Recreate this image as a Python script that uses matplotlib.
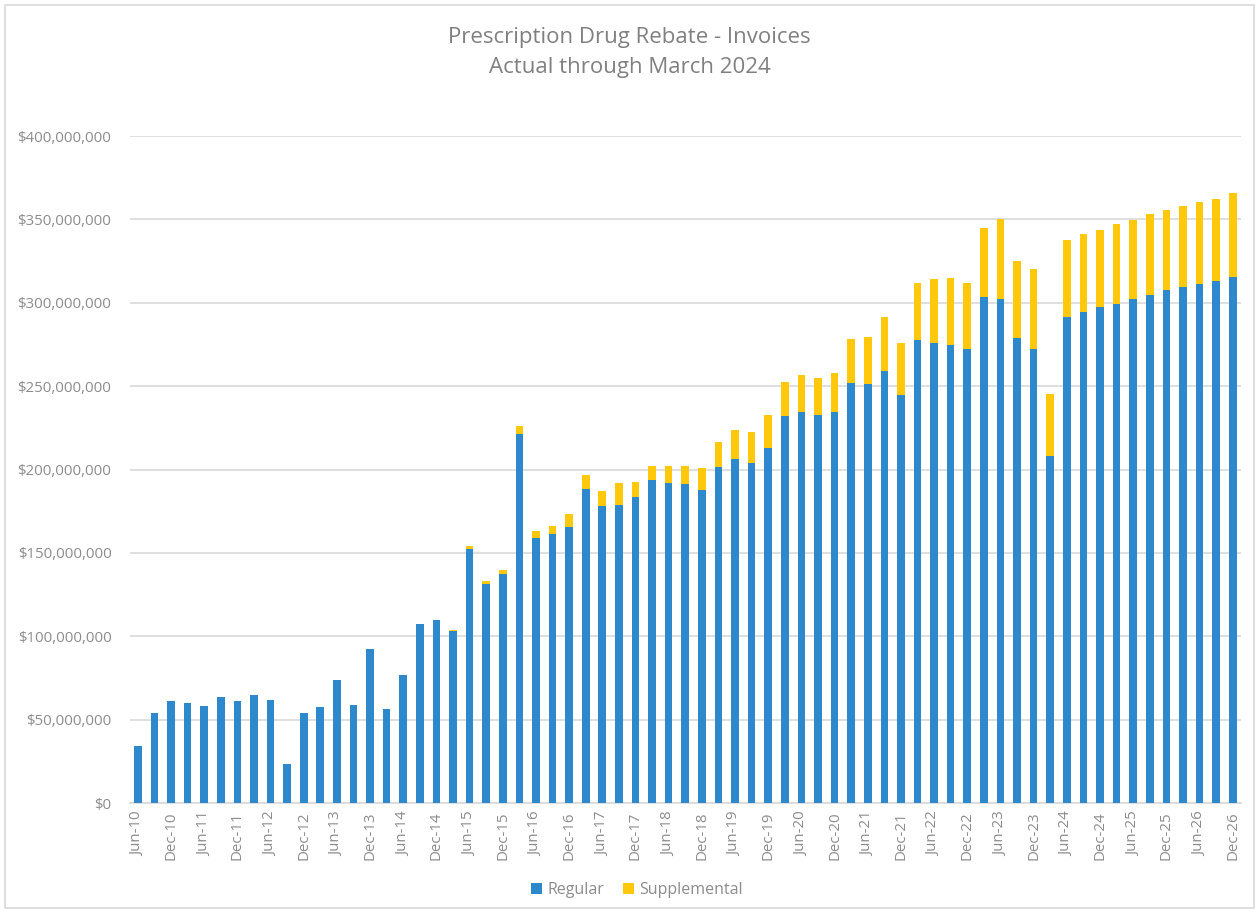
import matplotlib.pyplot as plt
import matplotlib.ticker as mticker
import matplotlib.patches as mpatches
import numpy as np
import pandas as pd

plt.rcParams['font.family'] = ['Open Sans', 'DejaVu Sans']

# quarter-end labels Jun-10 .. Dec-26
quarters = pd.date_range('2010-06-30', '2026-12-31', freq='QE').strftime('%b-%y').tolist()

# values in millions of dollars
regular = [34, 54, 61, 60, 58, 63.6, 61, 64.8, 61.6, 23.6,
           54.2, 57.4, 73.8, 58.8, 92.4, 56.2, 76.9, 107.3, 109.9, 103.2,
           152.2, 131.1, 137.2, 221, 159, 161.1, 165.8, 188.6, 178.1, 178.7,
           183.5, 193.7, 191.9, 191.3, 187.7, 201.5, 206.3, 203.6, 212.6, 232.1,
           234.7, 232.7, 234.2, 251.7, 251, 259.3, 244.8, 277.7, 276, 274.7,
           272, 303.2, 302.5, 278.6, 272, 208, 291.6, 294.6, 297.4, 299.4,
           302, 304.8, 307.4, 309.2, 311.2, 313.2, 315.7]
supplemental = [0, 0, 0, 0, 0, 0, 0, 0, 0, 0,
                0, 0, 0, 0, 0, 0, 0, 0, 0, 0.4,
                2.1, 2.3, 2.6, 5.1, 4.4, 5, 7.5, 8.4, 9, 13.2,
                9.3, 8.3, 10.1, 10.7, 13.1, 14.8, 17.4, 19.1, 20.2, 20.1,
                22.2, 22.1, 23.8, 26.6, 28.7, 32, 31.2, 33.9, 38.1, 40.4,
                39.6, 41.8, 47.5, 46.6, 48, 37.3, 46, 46.6, 46.4, 47.8,
                47.8, 48.2, 48.2, 49, 49.2, 49.2, 49.9]

reg = np.array(regular) * 1e6
sup = np.array(supplemental) * 1e6
x = np.arange(len(quarters))

blue = '#2E88CC'
yellow = '#FFC80A'
gray = '#8C8C8C'

fig = plt.figure(figsize=(12.59, 9.13), dpi=100)
ax = fig.add_axes([129.5 / 1259, 1 - 803 / 913, (1241 - 129.5) / 1259, (803 - 136) / 913])

ax.bar(x, reg, width=0.46, color=blue, label='Regular', zorder=3)
ax.bar(x, sup, width=0.46, bottom=reg, color=yellow, label='Supplemental', zorder=3)

ax.set_xlim(-0.5, len(quarters) - 0.5)
ax.set_ylim(0, 400e6)
ax.yaxis.set_major_locator(mticker.MultipleLocator(50e6))
ax.yaxis.set_major_formatter(mticker.FuncFormatter(lambda v, p: f'${v:,.0f}'))
ax.grid(axis='y', color='#D9D9D9', linewidth=1.2, zorder=0)

ax.set_xticks(x[::2])
ax.set_xticklabels(quarters[::2], rotation=90)
ax.tick_params(axis='both', length=0, labelsize=10.8, colors=gray)
ax.tick_params(axis='y', pad=13)
ax.tick_params(axis='x', pad=6)

for s in ['top', 'right', 'left']:
    ax.spines[s].set_visible(False)
ax.spines['bottom'].set_color('#D9D9D9')
ax.spines['bottom'].set_linewidth(1.2)

fig.text(0.5, 1 - 37 / 913, 'Prescription Drug Rebate - Invoices', ha='center', va='center',
         fontsize=16, color='#808080')
fig.text(0.5, 1 - 68 / 913, 'Actual through March 2024', ha='center', va='center',
         fontsize=16, color='#808080')

leg = fig.legend(loc='center', bbox_to_anchor=(637 / 1259, 1 - 890 / 913), ncol=2, frameon=False,
                 fontsize=11.5, handlelength=0.7, handleheight=0.7, handletextpad=0.3, columnspacing=1.2)
for t in leg.get_texts():
    t.set_color(gray)

fig.patches.append(mpatches.Rectangle((5 / 1259, 5 / 913), 1249 / 1259, 903 / 913, transform=fig.transFigure,
                                      fill=False, edgecolor='#D9D9D9', linewidth=1.2))

fig.savefig('out.png', dpi=100)
